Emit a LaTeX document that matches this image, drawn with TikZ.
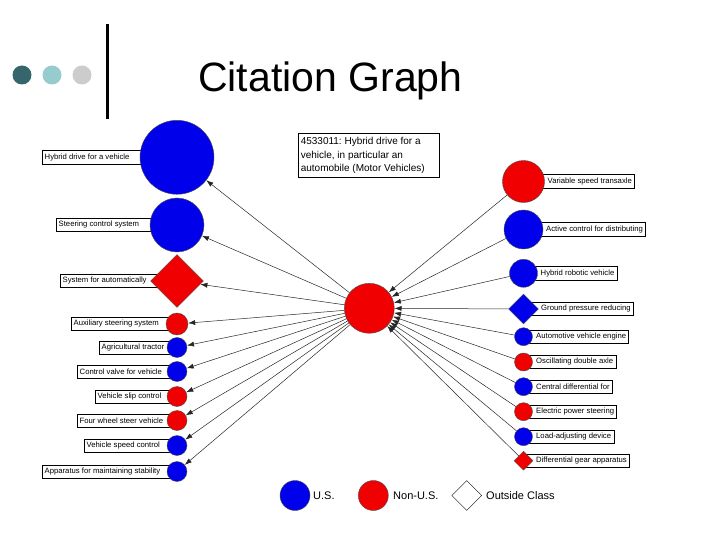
\documentclass[tikz,border=0pt]{standalone}
\usepackage{fontspec}
\setmainfont{Liberation Sans}
\usetikzlibrary{shapes.geometric,arrows.meta}
\definecolor{nblue}{RGB}{0,0,235}
\definecolor{nred}{RGB}{240,0,0}
\definecolor{dotdark}{RGB}{52,102,108}
\definecolor{dotlight}{RGB}{150,204,206}
\definecolor{dotgrey}{RGB}{204,204,204}
\frenchspacing
\begin{document}
\begin{tikzpicture}[x=1pt,y=-1pt,
  lbl/.style={font=\fontsize{7.7}{8}\selectfont, inner xsep=2.5pt, inner ysep=0pt, minimum height=13pt, anchor=west},
  lblbox/.style={draw=black, line width=0.6pt},
  us/.style={circle, fill=nblue, draw=black!70, line width=0.4pt, inner sep=0pt},
  nonus/.style={circle, fill=nred, draw=black!70, line width=0.4pt, inner sep=0pt},
  dia/.style={diamond, draw=black!70, line width=0.4pt, inner sep=0pt, aspect=1},
  cite/.style={line width=0.5pt, draw=black!85, -{Latex[length=7pt,width=5pt]}},
  legtext/.style={font=\fontsize{11}{12}\selectfont, anchor=west, inner sep=0pt}]
\useasboundingbox (0,0) rectangle (720,540);
% header
\fill[dotdark] (22,75) circle (9.5);
\fill[dotlight] (52,75) circle (9.5);
\fill[dotgrey] (82,75) circle (9.5);
\draw[line width=3.5pt] (107.5,24) -- (107.5,119);
\node[anchor=base west, inner sep=0pt, font=\fontsize{41}{45}\selectfont] (title) at (198,91.5) {Citation Graph};
% caption
\node[draw=black, line width=0.6pt, align=flush left, anchor=north west, inner xsep=2.5pt, inner ysep=4pt,
  text width=136pt, font=\fontsize{10}{13.5}\selectfont] (cap) at (298,133)
  {4533011: Hybrid drive for a\\vehicle, in particular an\\automobile (Motor Vehicles)};
% left labels
\node[lbl] (tL1) at (42,157.3) {Hybrid drive for a vehicle};
\node[lbl] (tL2) at (56,225) {Steering control system};
\node[lbl] (tL3) at (60,281) {System for automatically};
\node[lbl] (tL4) at (71,324) {Auxiliary steering system};
\node[lbl] (tL5) at (99,347.5) {Agricultural tractor};
\node[lbl] (tL6) at (77,371.5) {Control valve for vehicle};
\node[lbl] (tL7) at (95,396.5) {Vehicle slip control};
\node[lbl] (tL8) at (77,420.5) {Four wheel steer vehicle};
\node[lbl] (tL9) at (84,445.5) {Vehicle speed control};
\node[lbl] (tL10) at (42,471.5) {Apparatus for maintaining stability};
\foreach \i in {1,...,10}{\draw[lblbox] (tL\i.north west) rectangle (177,0 |- tL\i.south);}
% right labels
\node[lbl] (tR1) at (545,181.5) {Variable speed transaxle};
\node[lbl] (tR2) at (543.5,229.5) {Active control for distributing};
\node[lbl] (tR3) at (538,273.3) {Hybrid robotic vehicle};
\node[lbl] (tR4) at (538.5,309) {Ground pressure reducing};
\node[lbl] (tR5) at (533.5,336.7) {Automotive vehicle engine};
\node[lbl] (tR6) at (533.5,362) {Oscillating double axle};
\node[lbl] (tR7) at (533.5,386.7) {Central differential for};
\node[lbl] (tR8) at (533.5,411.7) {Electric power steering};
\node[lbl] (tR9) at (533.5,436.7) {Load-adjusting device};
\node[lbl] (tR10) at (533.5,460.7) {Differential gear apparatus};
\foreach \i in {1,...,10}{\draw[lblbox] (523.5,0 |- tR\i.north) rectangle (tR\i.south east);}
% left nodes
\node[us, minimum size=74pt] (L1) at (177,157.3) {};
\node[us, minimum size=54pt] (L2) at (177,225) {};
\node[dia, fill=nred, minimum width=53pt, minimum height=53pt] (L3) at (177,281) {};
\node[nonus, minimum size=22pt] (L4) at (177,324) {};
\node[us, minimum size=20pt] (L5) at (177,347.5) {};
\node[us, minimum size=20pt] (L6) at (177,371.5) {};
\node[nonus, minimum size=20pt] (L7) at (177,396.5) {};
\node[nonus, minimum size=20pt] (L8) at (177,420.5) {};
\node[us, minimum size=20pt] (L9) at (177,445.5) {};
\node[us, minimum size=20pt] (L10) at (177,471.5) {};
% right nodes
\node[nonus, minimum size=42pt] (R1) at (523.5,181.5) {};
\node[us, minimum size=39pt] (R2) at (523.5,229.5) {};
\node[us, minimum size=28pt] (R3) at (523.5,273.3) {};
\node[dia, fill=nblue, minimum width=30pt, minimum height=30pt] (R4) at (523.5,309) {};
\node[us, minimum size=18pt] (R5) at (523.5,336.7) {};
\node[nonus, minimum size=18pt] (R6) at (523.5,362) {};
\node[us, minimum size=18pt] (R7) at (523.5,386.7) {};
\node[nonus, minimum size=18pt] (R8) at (523.5,411.7) {};
\node[us, minimum size=18pt] (R9) at (523.5,436.7) {};
\node[dia, fill=nred, minimum width=19pt, minimum height=19pt] (R10) at (523.5,460.7) {};
% center
\node[nonus, minimum size=50pt] (c) at (369.3,308.3) {};
% connectors
\foreach \i in {1,...,10}{\draw[cite] (c) -- (L\i);}
\foreach \i in {1,...,10}{\draw[cite] (R\i) -- (c);}
% legend
\node[us, minimum size=30pt] (gUS) at (295,495.5) {};
\node[legtext] (tUS) at (313,495.5) {U.S.};
\node[nonus, minimum size=30pt] (gNUS) at (373.3,495.5) {};
\node[legtext] (tNUS) at (393,495.5) {Non-U.S.};
\node[dia, fill=white, draw=black, minimum width=30pt, minimum height=30pt] (gOC) at (466.7,495.5) {};
\node[legtext] (tOC) at (486,495.5) {Outside Class};
\end{tikzpicture}
\end{document}
